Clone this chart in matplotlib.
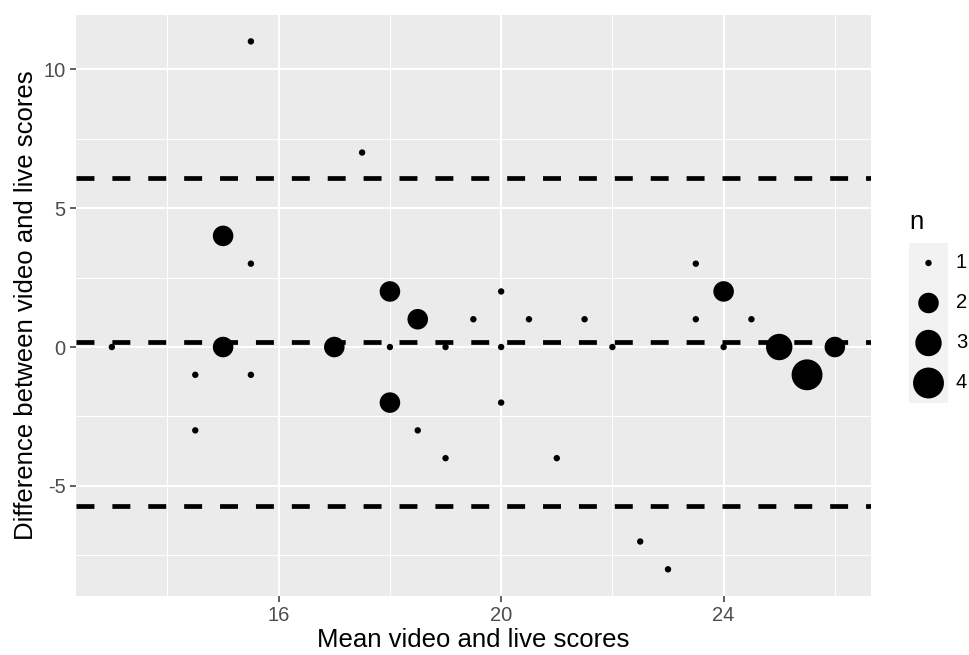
import numpy as np
import matplotlib
matplotlib.use("Agg")
import matplotlib.pyplot as plt

# mean of video and live scores, difference, and number of subjects at that point
mean_score = [13, 14.5, 14.5, 15, 15, 15.5, 15.5, 15.5, 17, 17.5,
              18, 18, 18, 18.5, 18.5, 19, 19, 19.5, 20, 20,
              20, 20.5, 21, 21.5, 22, 22.5, 23, 23.5, 23.5, 24,
              24, 24.5, 25, 25.5, 26]
diff_score = [0, -1, -3, 4, 0, 11, 3, -1, 0, 7,
              2, 0, -2, 1, -3, 0, -4, 1, 2, 0,
              -2, 1, -4, 1, 0, -7, -8, 3, 1, 2,
              0, 1, 0, -1, 0]
n_count = [1, 1, 1, 2, 2, 1, 1, 1, 2, 1,
           2, 1, 2, 2, 1, 1, 1, 1, 1, 1,
           1, 1, 1, 1, 1, 1, 1, 1, 1, 2,
           1, 1, 3, 4, 2]

legend_n = [1, 2, 3, 4]
x_ticks = [16, 20, 24]
y_ticks = [-5, 0, 5, 10]

x = np.array(mean_score, dtype=float)
y = np.array(diff_score, dtype=float)
n = np.array(n_count, dtype=float)

# bias and limits of agreement (weighted by n)
yy = np.repeat(y, n.astype(int))
bias = yy.mean()
sd = yy.std(ddof=1)
loa = [bias - 1.96 * sd, bias, bias + 1.96 * sd]

DPI = 100


def point_size(v):
    # ggplot-like area scale, diameter in px -> scatter area in pt^2
    frac = (np.asarray(v, dtype=float) - 1) / 3
    d_px = 1.5 + 4.9 * (1 + 5 * np.sqrt(frac))
    return (d_px * 72 / DPI) ** 2


plt.rcParams["font.family"] = ["Liberation Sans", "DejaVu Sans"]
plt.rcParams["axes.unicode_minus"] = False

fig = plt.figure(figsize=(9.69, 6.55), dpi=DPI)
W, H = 969, 655
left, right, top, bottom = 75.7, 871, 15, 595.7
ax = fig.add_axes([left / W, 1 - bottom / H, (right - left) / W, (bottom - top) / H])
ax.set_facecolor("#EBEBEB")

ax.set_xlim(12.35, 26.65)
ax.set_ylim(-8.95, 11.95)

ax.set_xticks(x_ticks)
ax.set_xticks([14, 18, 22, 26], minor=True)
ax.set_yticks(y_ticks)
ax.set_yticks([-7.5, -2.5, 2.5, 7.5], minor=True)

ax.grid(which="major", color="white", linewidth=1.5)
ax.grid(which="minor", color="white", linewidth=0.75)
ax.set_axisbelow(True)
for s in ax.spines.values():
    s.set_visible(False)

ax.tick_params(which="major", length=4.3, width=1.1, color="#333333",
               labelsize=14.5, labelcolor="#4D4D4D", pad=3)
ax.tick_params(which="minor", length=0)

for v in loa:
    ax.axhline(v, color="black", linewidth=3.4, linestyle=(0, (3.8, 3.8)), zorder=2)

ax.scatter(x, y, s=point_size(n), color="black", linewidths=0, zorder=3)

ax.set_xlabel("Mean video and live scores", fontsize=18.5, labelpad=2)
ax.set_ylabel("Difference between video and live scores", fontsize=18.5, labelpad=4)

# legend
lx0, lx1, ly0, ly1 = 909, 948, 243, 403
lax = fig.add_axes([lx0 / W, 1 - ly1 / H, (lx1 - lx0) / W, (ly1 - ly0) / H])
lax.set_facecolor("#F2F2F2")
lax.set_xlim(0, 1)
lax.set_ylim(len(legend_n) - 0.5, -0.5)
lax.set_xticks([])
lax.set_yticks([])
for s in lax.spines.values():
    s.set_visible(False)
pos = np.arange(len(legend_n))
lax.scatter(np.full(len(legend_n), 0.5), pos, s=point_size(legend_n),
            color="black", linewidths=0, clip_on=False)
for p, lab in zip(pos, legend_n):
    lax.text(1.2, p, str(lab), fontsize=14.5, va="center", ha="left",
             clip_on=False)
fig.text(lx0 / W, 1 - 222 / H, "n", fontsize=18.5, ha="left", va="center")

fig.savefig("out.png", dpi=DPI)
